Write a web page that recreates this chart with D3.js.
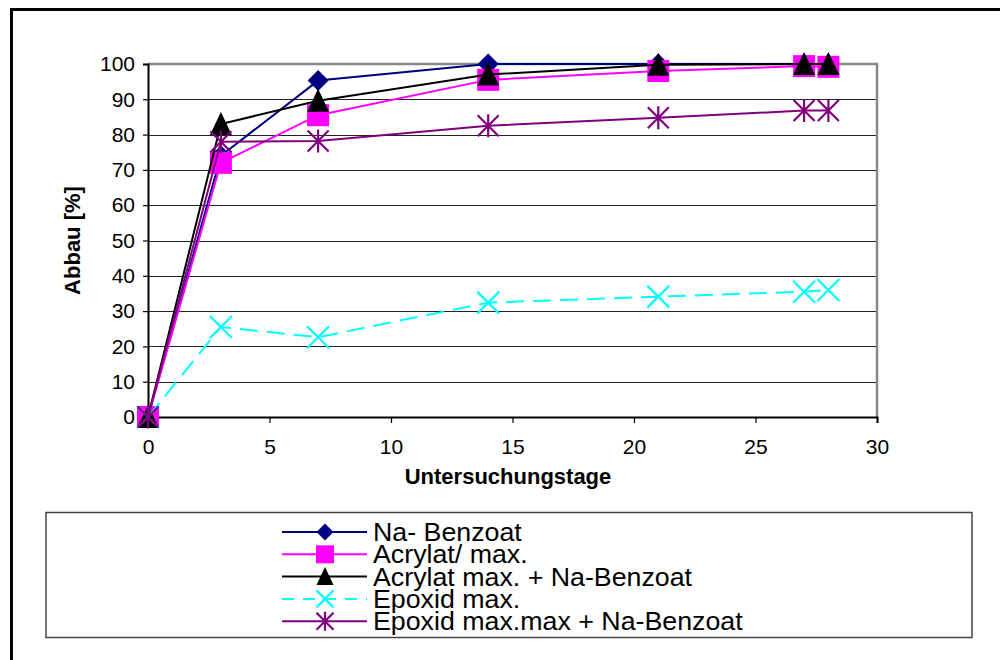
<!DOCTYPE html>
<html>
<head>
<meta charset="utf-8">
<script src="https://cdn.jsdelivr.net/npm/d3@7"></script>
<style>
  html, body { margin: 0; padding: 0; background: #fff; }
  svg { display: block; font-family: "Liberation Sans", Arial, sans-serif; }
</style>
</head>
<body>
<svg id="chart" width="1000" height="660"></svg>
<script>
// Untersuchungstage (x) and Abbau in % for each test series
const days = [0, 3, 7, 14, 21, 27, 28];
const naBenzoat      = [0, 74, 95.3, 100, 100, 100, 100];
const acrylatMax     = [0, 72, 85.5, 95.5, 98, 99.4, 99.2];
const acrylatNaBenz  = [0, 83, 89.6, 97, 99.8, 100, 100];
const epoxidMax      = [0, 25.5, 22.6, 32.4, 34.1, 35.5, 36];
const epoxidNaBenz   = [0, 78, 78.2, 82.5, 84.8, 86.8, 86.8];

const xTicks = [0, 5, 10, 15, 20, 25, 30];
const yTicks = [0, 10, 20, 30, 40, 50, 60, 70, 80, 90, 100];

const seriesNames = [
  "Na- Benzoat",
  "Acrylat/ max.",
  "Acrylat max. + Na-Benzoat",
  "Epoxid max.",
  "Epoxid max.max + Na-Benzoat"
];
const seriesValues = [naBenzoat, acrylatMax, acrylatNaBenz, epoxidMax, epoxidNaBenz];
const seriesColors = ["#000080", "#ff00ff", "#000000", "#00ffff", "#800080"];
const seriesMarkers = ["diamond", "square", "triangle", "cross", "star"];
const seriesDash = [null, null, null, "18,9", null];

const svg = d3.select("#chart");

// outer chart frame
svg.append("rect")
  .attr("x", 11.5).attr("y", 9.5)
  .attr("width", 1100).attr("height", 800)
  .attr("fill", "none").attr("stroke", "#000").attr("stroke-width", 3);

const x = d3.scaleLinear().domain([0, 30]).range([148, 877]);
const y = d3.scaleLinear().domain([0, 100]).range([417, 64]);

// horizontal gridlines
svg.append("g")
  .selectAll("line")
  .data(yTicks.filter(v => v > 0 && v < 100))
  .join("line")
  .attr("x1", x(0)).attr("x2", x(30))
  .attr("y1", d => Math.round(y(d)) + 0.5).attr("y2", d => Math.round(y(d)) + 0.5)
  .attr("stroke", "#222").attr("stroke-width", 1);

// plot area border (top / right in grey)
svg.append("path")
  .attr("d", `M${x(0)},${y(100)}H${x(30)}V${y(0)}`)
  .attr("fill", "none").attr("stroke", "#888").attr("stroke-width", 2.5);

// axes
const yAxis = d3.axisLeft(y).tickValues(yTicks).tickSize(5).tickPadding(8);
const gy = svg.append("g").attr("transform", `translate(${x(0)},0)`).call(yAxis);
const xAxis = d3.axisBottom(x).tickValues(xTicks).tickSize(6).tickPadding(18);
const gx = svg.append("g").attr("transform", `translate(0,${y(0)})`).call(xAxis);
[gx, gy].forEach(g => {
  g.select(".domain").attr("stroke", "#000").attr("stroke-width", 2);
  g.selectAll(".tick line").attr("stroke", "#000").attr("stroke-width", 1.2);
  g.selectAll(".tick text").attr("fill", "#000")
    .style("font-family", "'Liberation Sans', Arial, sans-serif").style("font-size", "21px");
});
gx.selectAll(".tick text").attr("dy", "0.62em");

// axis titles
svg.append("text")
  .attr("x", 508).attr("y", 484)
  .attr("text-anchor", "middle")
  .style("font-size", "22px").style("font-weight", "bold")
  .text("Untersuchungstage");
svg.append("text")
  .attr("transform", `translate(80,${(y(0) + y(100)) / 2}) rotate(-90)`)
  .attr("text-anchor", "middle")
  .style("font-size", "22px").style("font-weight", "bold")
  .text("Abbau [%]");

// marker drawing
function drawMarker(g, type, color, cx, cy, s) {
  const h = s / 2;
  if (type === "diamond") {
    g.append("path").attr("d", `M${cx},${cy - h}L${cx + h},${cy}L${cx},${cy + h}L${cx - h},${cy}Z`)
      .attr("fill", color);
  } else if (type === "square") {
    g.append("rect").attr("x", cx - h).attr("y", cy - h).attr("width", s).attr("height", s)
      .attr("fill", color);
  } else if (type === "triangle") {
    g.append("path").attr("d", `M${cx},${cy - h - 1}L${cx + h},${cy + h}L${cx - h},${cy + h}Z`)
      .attr("fill", color);
  } else if (type === "cross") {
    g.append("path").attr("d", `M${cx - h},${cy - h}L${cx + h},${cy + h}M${cx - h},${cy + h}L${cx + h},${cy - h}`)
      .attr("stroke", color).attr("stroke-width", 2.2).attr("fill", "none");
  } else if (type === "star") {
    g.append("path").attr("d", `M${cx - h},${cy - h}L${cx + h},${cy + h}M${cx - h},${cy + h}L${cx + h},${cy - h}M${cx},${cy - h - 1}L${cx},${cy + h + 1}`)
      .attr("stroke", color).attr("stroke-width", 2.2).attr("fill", "none");
  }
}

const line = d3.line().x(d => x(d[0])).y(d => y(d[1]));
const markerSize = [21, 22, 22, 22, 21];

seriesValues.forEach((vals, i) => {
  const g = svg.append("g");
  const pts = days.map((d, k) => [d, vals[k]]);
  g.append("path").datum(pts)
    .attr("d", line)
    .attr("fill", "none")
    .attr("stroke", seriesColors[i])
    .attr("stroke-width", 2)
    .attr("stroke-dasharray", seriesDash[i]);
  pts.forEach(p => drawMarker(g, seriesMarkers[i], seriesColors[i], x(p[0]), y(p[1]), markerSize[i]));
});

// legend
svg.append("rect")
  .attr("x", 46).attr("y", 512.5).attr("width", 926).attr("height", 125)
  .attr("fill", "#fff").attr("stroke", "#444").attr("stroke-width", 1.5);

const legend = svg.append("g");
seriesNames.forEach((name, i) => {
  const ly = 532 + i * 22.3;
  const g = legend.append("g");
  g.append("line")
    .attr("x1", 282).attr("x2", 367).attr("y1", ly).attr("y2", ly)
    .attr("stroke", seriesColors[i]).attr("stroke-width", 2)
    .attr("stroke-dasharray", seriesDash[i] ? "12,9" : null);
  drawMarker(g, seriesMarkers[i], seriesColors[i], 325, ly, [17, 18, 17, 17, 17][i]);
  g.append("text")
    .attr("transform", `translate(373,${ly + 9}) scale(1.03,1)`)
    .style("font-size", "26px")
    .text(name);
});
</script>
</body>
</html>
